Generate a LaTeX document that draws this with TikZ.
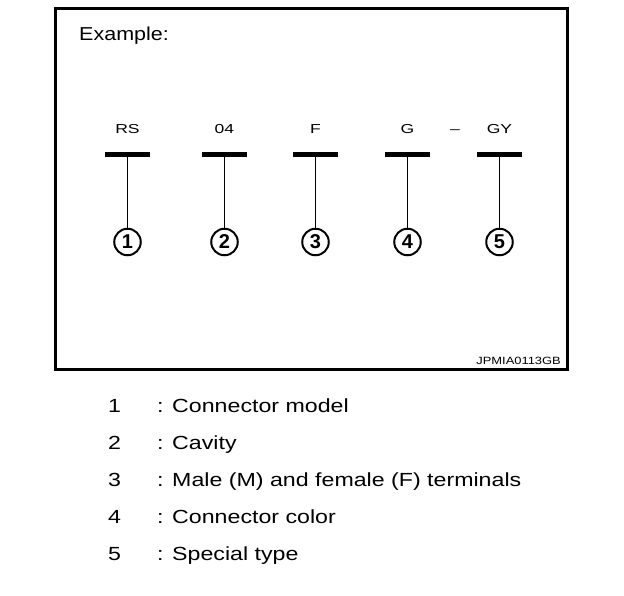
\documentclass[tikz,border=0pt]{standalone}
\usepackage{fontspec}
\setmainfont{Liberation Sans}
\newcommand{\wide}[2]{\scalebox{#1}[1]{#2}}
\begin{document}
\begin{tikzpicture}[x=1pt,y=-1pt,
  barbox/.style={fill=black,inner sep=0pt,minimum width=45pt,minimum height=4.5pt},
  numcirc/.style={circle,draw,line width=2pt,inner sep=0pt,minimum size=26.5pt,font=\fontsize{20}{20}\selectfont\bfseries},
  code/.style={font=\fontsize{13}{13}\selectfont,inner sep=0pt,anchor=base},
  leg/.style={font=\fontsize{19}{20}\selectfont,inner sep=0pt,anchor=base west},
  stem/.style={line width=1.6pt}]
\useasboundingbox (0,0) rectangle (624,596);
\fill[white] (0,0) rectangle (624,596);
\draw[line width=3pt] (55,9) rectangle (567,369);
\node[font=\fontsize{18.7}{20}\selectfont,inner sep=0pt,anchor=base west] (ex) at (79,41) {\wide{1.15}{Example:}};
\foreach \i/\x/\t in {1/127.5/RS,2/224.5/04,3/315.5/F,4/407.5/G,5/499.5/GY}{
  \node[code] (t\i) at (\x,133.5) {\wide{1.35}{\t}};
  \node[barbox] (b\i) at (\x,154.5) {};
  \node[numcirc] (c\i) at (\x,242) {\i};
  \draw[stem] (b\i.south) -- (c\i.north);
}
\node[code] (dash) at (455,133.5) {\wide{1.35}{--}};
\node[font=\fontsize{10.5}{11}\selectfont,inner sep=0pt,anchor=base east] (id) at (561,364) {\wide{1.23}{JPMIA0113GB}};
\foreach \i/\y/\t in {1/412/Connector model,2/449/Cavity,3/486/Male (M) and female (F) terminals,4/523/Connector color,5/560/Special type}{
  \node[leg] (n\i) at (108,\y) {\wide{1.22}{\i}};
  \node[leg] (l\i) at (157,\y) {\wide{1.22}{: \t}};
}
\end{tikzpicture}
\end{document}
